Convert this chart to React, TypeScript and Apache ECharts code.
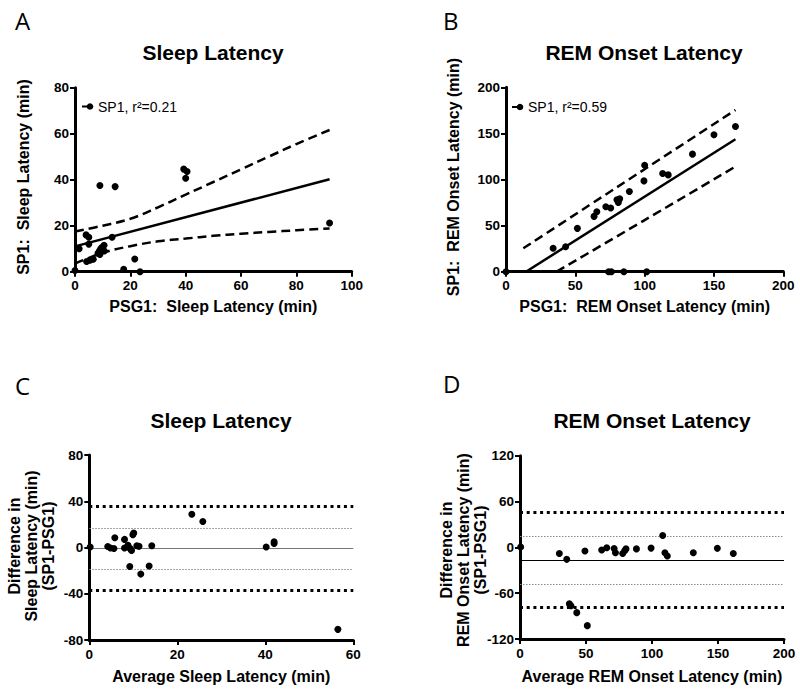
import React, { useEffect, useRef } from 'react';
import * as echarts from 'echarts';

// ---------- Data ----------
// Panel A: SP1 vs PSG1 sleep latency (min)
const aPoints: number[][] = [
  [0, 0.5], [1.5, 10], [4, 16], [5, 15], [5, 12], [4.2, 4.4], [5.4, 5], [6.6, 5.4],
  [8.3, 8], [8.8, 9], [9.3, 10], [9.8, 10.6], [10.5, 11.5], [10.6, 9], [9, 7.5],
  [9, 37.5], [14.5, 37], [13.4, 15], [17.6, 1], [21.6, 5.5], [23.5, 0],
  [39.3, 44.6], [40.5, 43.6], [40, 40.6], [92, 21.2],
];
const aFit: number[][] = [[0, 11], [92, 40.2]];
const aBandX = [0, 10, 20, 30, 40, 50, 60, 70, 80, 92];
const aUpper = [17.5, 20, 23, 28, 33.5, 39, 44.5, 50, 55.5, 61.6];
const aLower = [3.5, 8.2, 11.1, 13.2, 14.4, 15.6, 16.5, 17.3, 18, 18.8];

// Panel B: SP1 vs PSG1 REM onset latency (min)
const bPoints: number[][] = [
  [0, 0], [34, 25.5], [43, 27], [51.5, 47], [63.5, 60], [65.5, 65], [72, 70.5], [75.5, 69],
  [80, 78], [81, 75], [82, 79], [89, 87], [99.5, 98.5], [100, 115.5], [113, 106.5],
  [117, 105], [134.5, 127.5], [150, 148.5], [165.5, 157.5],
  [74, 0], [76, 0], [85, 0], [101.5, 0],
];
const bFit: number[][] = [[14.4, 0], [165.5, 143.6]];
const bUpper: number[][] = [[12.5, 25.4], [60, 72], [100, 111.2], [165.5, 175.4]];
const bLower: number[][] = [[36.5, 0], [100, 56], [165.5, 114]];

// Panel C: Bland-Altman, sleep latency
const cPoints: number[][] = [
  [0.2, 0.5], [4.2, 0.8], [4.8, -0.5], [5.6, -0.8], [5.8, 8.5], [8, 7], [8, -0.5], [8.8, 2],
  [9.2, -16.5], [9.3, -1], [9.6, -2.5], [9.9, 11], [10.1, 12.5], [10.8, 1.5], [11.3, 1],
  [11.7, -23], [13.6, -16], [14.2, 1.5], [23.3, 28.7], [25.8, 22.5], [40.2, 0.5],
  [42, 3.5], [42, 5], [56.5, -70.8],
];
const cBias = -0.8;
const cLimits = [35.3, -36.8];
const cSd = [16.6, -18.9];

// Panel D: Bland-Altman, REM onset latency
const dPoints: number[][] = [
  [0.5, 0.5], [29.8, -8], [35.4, -15.7], [37.4, -74], [38.6, -76.5], [43, -85.5], [51, -102.5],
  [49.2, -4.8], [61.9, -3.5], [65.7, -0.5], [71.3, -1.5], [72.3, -7], [77.8, -8], [79.3, -4.5],
  [80.3, -2], [88.2, -2], [99.3, -1], [108.1, 15.5], [109.8, -7], [111.6, -11.4],
  [131.3, -7], [149.5, -1.3], [161.6, -8],
];
const dBias = -17;
const dLimits = [45.4, -78.5];
const dSd = [14, -48.4];

const titles = ['Sleep Latency', 'REM Onset Latency', 'Sleep Latency', 'REM Onset Latency'];
const panelLetters = ['A', 'B', 'C', 'D'];
const xNames = ['PSG1:  Sleep Latency (min)', 'PSG1:  REM Onset Latency (min)', 'Average Sleep Latency (min)', 'Average REM Onset Latency (min)'];
const yNames = ['SP1:  Sleep Latency (min)', 'SP1:  REM Onset Latency (min)', 'Difference in\nSleep Latency (min)\n(SP1-PSG1)', 'Difference in\nREM Onset Latency (min)\n(SP1-PSG1)'];
const legendTexts = ['SP1, r\u00b2=0.21', 'SP1, r\u00b2=0.59'];

const xRanges = [[0, 100, 20], [0, 200, 50], [0, 60, 20], [0, 200, 50]];
const yRanges = [[0, 80, 20], [0, 200, 50], [-80, 80, 40], [-120, 120, 60]];

const FONT = '"Liberation Sans", Arial, sans-serif';

export default function App() {
  const ref = useRef<HTMLDivElement>(null);
  useEffect(() => {
    const chart = echarts.init(ref.current!, null, { renderer: 'svg' });

    const grids = [
      { left: 75, top: 87.7, width: 276.7, height: 184 },
      { left: 506, top: 87.3, width: 277.3, height: 184.4 },
      { left: 89.3, top: 455, width: 264, height: 185 },
      { left: 520, top: 455.7, width: 264, height: 183.3 },
    ];
    const xGaps = [27, 27, 28, 29];

    const axisCommon = {
      type: 'value' as const,
      splitLine: { show: false },
      axisLine: { show: true, onZero: false, lineStyle: { color: '#000', width: 3 } },
      axisTick: { show: true, length: 5, lineStyle: { color: '#000', width: 2 } },
      nameTextStyle: { color: '#000', fontSize: 16, fontWeight: 'bold' as const, fontFamily: FONT },
    };

    const xAxis = xRanges.map((r, i) => ({
      ...axisCommon,
      gridIndex: i,
      min: r[0], max: r[1], interval: r[2],
      name: xNames[i],
      nameLocation: 'middle' as const,
      nameGap: xGaps[i],
      axisLabel: { color: '#000', fontSize: 13.5, fontWeight: 'bold' as const, fontFamily: FONT, margin: 7 },
    }));
    const yAxis = yRanges.map((r, i) => ({
      ...axisCommon,
      gridIndex: i,
      min: r[0], max: r[1], interval: r[2],
      axisLabel: { color: '#000', fontSize: 13.5, fontWeight: 'bold' as const, fontFamily: FONT, margin: 6 },
    }));

    const scatter = (pts: number[][], i: number, extra: any = {}) => ({
      type: 'scatter',
      xAxisIndex: i, yAxisIndex: i,
      data: pts,
      symbol: 'circle',
      symbolSize: 7,
      itemStyle: { color: '#000', opacity: 1 },
      clip: false,
      z: 5,
      ...extra,
    });
    const line = (pts: number[][], i: number, dashed: boolean) => ({
      type: 'line',
      xAxisIndex: i, yAxisIndex: i,
      data: pts,
      symbol: 'none',
      smooth: dashed ? 0.4 : false,
      clip: true,
      lineStyle: { color: '#000', width: 2.5, type: dashed ? [9, 5] : 'solid' },
      z: 3,
    });
    const refLines = (bias: number, limits: number[], sd: number[], biasColor: string) => ({
      silent: true,
      symbol: ['none', 'none'],
      label: { show: false },
      animation: false,
      data: [
        { yAxis: bias, lineStyle: { color: biasColor, width: 1.2, type: 'solid' } },
        { yAxis: sd[0], lineStyle: { color: '#888', width: 1, type: [1.5, 1.5] } },
        { yAxis: sd[1], lineStyle: { color: '#888', width: 1, type: [1.5, 1.5] } },
        { yAxis: limits[0], lineStyle: { color: '#000', width: 3, type: [3, 3.7] } },
        { yAxis: limits[1], lineStyle: { color: '#000', width: 3, type: [3, 3.7] } },
      ],
    });

    const series: any[] = [
      scatter(aPoints, 0),
      line(aFit, 0, false),
      line(aBandX.map((x, k) => [x, aUpper[k]]), 0, true),
      line(aBandX.map((x, k) => [x, aLower[k]]), 0, true),
      scatter(bPoints, 1),
      line(bFit, 1, false),
      line(bUpper, 1, true),
      line(bLower, 1, true),
      scatter(cPoints, 2, { markLine: refLines(cBias, cLimits, cSd, '#777') }),
      scatter(dPoints, 3, { markLine: refLines(dBias, dLimits, dSd, '#000') }),
    ];

    const titlePos = [[213, 52], [644, 52], [221, 420], [652, 420]];
    const letterPos = [[15, 20], [443, 20], [15, 385], [443, 383]];
    const legendPos = [[82, 90, 98, 106.5], [512, 520, 528, 107]];
    const yNamePos = [[23, 177], [453.5, 177], [31, 546], [463, 550]];

    const graphic: any[] = [];
    titles.forEach((t, i) => {
      graphic.push({
        type: 'text', x: titlePos[i][0], y: titlePos[i][1],
        style: { text: t, fill: '#000', font: `bold 21px ${FONT}`, textAlign: 'center', textVerticalAlign: 'middle', align: 'center', verticalAlign: 'middle' },
      });
    });
    yNames.forEach((t, i) => {
      graphic.push({
        type: 'text', x: yNamePos[i][0], y: yNamePos[i][1], rotation: Math.PI / 2,
        style: { text: t, fill: '#000', font: `bold 16px ${FONT}`, lineHeight: 17, textAlign: 'center', textVerticalAlign: 'middle', align: 'center', verticalAlign: 'middle' },
      });
    });
    panelLetters.forEach((t, i) => {
      graphic.push({
        type: 'text', x: letterPos[i][0], y: letterPos[i][1],
        style: { text: t, fill: '#000', font: `24px "Open Sans", ${FONT}`, textAlign: 'left', textVerticalAlign: 'middle', align: 'left', verticalAlign: 'middle' },
      });
    });
    legendTexts.forEach((t, i) => {
      const [x1, cx, tx, y] = legendPos[i];
      graphic.push({ type: 'line', shape: { x1, y1: y, x2: cx, y2: y }, style: { stroke: '#000', lineWidth: 2 } });
      graphic.push({ type: 'circle', shape: { cx, cy: y, r: 3.3 }, style: { fill: '#000' } });
      graphic.push({
        type: 'text', x: tx, y,
        style: { text: t, fill: '#000', font: `14px ${FONT}`, textAlign: 'left', textVerticalAlign: 'middle', align: 'left', verticalAlign: 'middle' },
      });
    });

    chart.setOption({
      animation: false,
      backgroundColor: '#fff',
      grid: grids,
      xAxis,
      yAxis,
      series,
      graphic,
    });
    return () => chart.dispose();
  }, []);
  return <div ref={ref} style={{ position: 'absolute', left: 0, top: 0, width: 800, height: 690 }} />;
}
